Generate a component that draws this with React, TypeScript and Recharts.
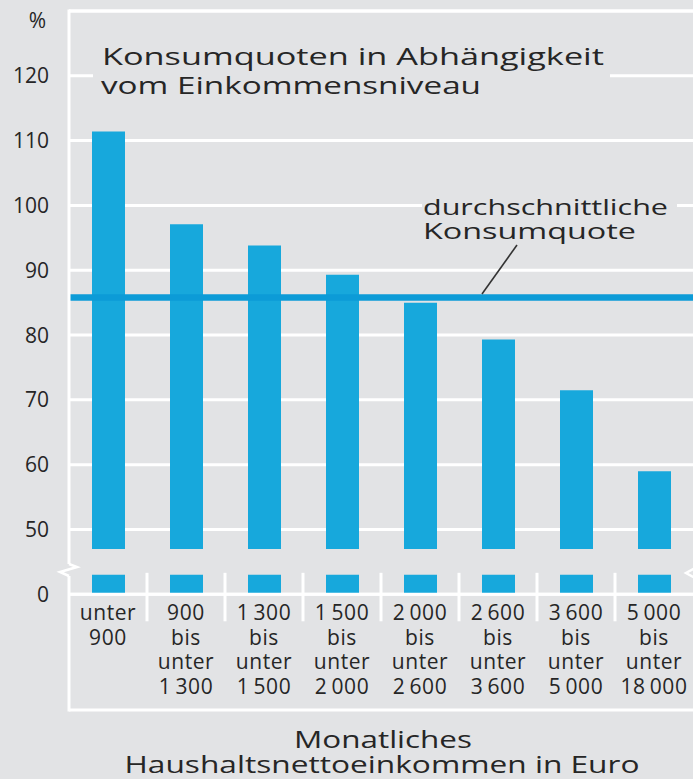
import React from 'react';
import { BarChart, Bar, XAxis, YAxis, CartesianGrid, ReferenceLine } from 'recharts';

// Monatliches Haushaltsnettoeinkommen in Euro (Klassen)
const incomeClasses = [
    'unter\n900',
    '900\nbis\nunter\n1\u2009300',
    '1\u2009300\nbis\nunter\n1\u2009500',
    '1\u2009500\nbis\nunter\n2\u2009000',
    '2\u2009000\nbis\nunter\n2\u2009600',
    '2\u2009600\nbis\nunter\n3\u2009600',
    '3\u2009600\nbis\nunter\n5\u2009000',
    '5\u2009000\nbis\nunter\n18\u2009000',
];

// Konsumquote in %
const consumptionRates = [111.4, 97.1, 93.8, 89.3, 85.0, 79.3, 71.5, 59.0];
const averageRate = 85.8;

const yTickValues = [0, 50, 60, 70, 80, 90, 100, 110, 120];

// broken axis: above the break the scale runs value - 40, below it is squeezed
const UPPER_OFFSET = 40;
const BREAK_TOP_VALUE = 47;
const STUB = 3;
const toDisplay = (v: number) => (v === 0 ? 0 : v - UPPER_OFFSET);
const fromDisplay = (d: number) => (d === 0 ? 0 : d + UPPER_OFFSET);

const data = incomeClasses.map((name, i) => ({
    name,
    stub: STUB,
    gap: toDisplay(BREAK_TOP_VALUE) - STUB,
    main: toDisplay(consumptionRates[i]) - toDisplay(BREAK_TOP_VALUE),
}));

const W = 693;
const H = 779;
const PLOT_LEFT = 69;
const BAND = (W - PLOT_LEFT) / incomeClasses.length;

const BG = '#e2e3e5';
const BAR = '#17a8dc';
const LINE = '#0c9bd7';
const TEXT = '#262626';
const FONT = '"Open Sans", sans-serif';

const XTick = (props: any) => {
    const { x, y, payload, index } = props;
    const lines = String(payload.value).split('\n');
    return (
        <g>
            {index > 0 && (
                <line x1={x - BAND / 2} x2={x - BAND / 2} y1={y - 21.5} y2={y + 27} stroke="#fff" strokeWidth={3} />
            )}
            <text x={x} y={y + 26} textAnchor="middle" fill={TEXT} fontSize={21} fontFamily={FONT} letterSpacing={0.6}>
                {lines.map((l, i) => (
                    <tspan key={i} x={x} dy={i === 0 ? 0 : 24.4}>{l}</tspan>
                ))}
            </text>
        </g>
    );
};

const YTick = (props: any) => {
    const { y, payload } = props;
    return (
        <text x={49} y={y + 7.5} textAnchor="end" fill={TEXT} fontSize={21} fontFamily={FONT}>
            {fromDisplay(payload.value)}
        </text>
    );
};

const Overlay = () => (
    <svg width={W} height={H} style={{ position: 'absolute', left: 0, top: 0, pointerEvents: 'none' }}>
        {/* frame */}
        <line x1={PLOT_LEFT} x2={W} y1={11} y2={11} stroke="#fff" strokeWidth={3} />
        <line x1={PLOT_LEFT} x2={W} y1={710} y2={710} stroke="#fff" strokeWidth={3} />
        <line x1={PLOT_LEFT} x2={PLOT_LEFT} y1={9.5} y2={564} stroke="#fff" strokeWidth={3} />
        <line x1={PLOT_LEFT} x2={PLOT_LEFT} y1={576} y2={711.5} stroke="#fff" strokeWidth={3} />
        <polyline points="69,564 77,567 60,572 69,576" fill="none" stroke="#fff" strokeWidth={2.5} />
        <polyline points="695,568 686,573 695,578" fill="none" stroke="#fff" strokeWidth={2.5} />

        <text x={46} y={28} textAnchor="end" fill={TEXT} fontSize={21} fontFamily={FONT}>%</text>

        {/* title */}
        <rect x={93} y={40} width={517} height={62} fill={BG} />
        <text x={102} y={65} fill={TEXT} fontSize={23} fontFamily={FONT} textLength={502} lengthAdjust="spacingAndGlyphs">
            Konsumquoten in Abhängigkeit
        </text>
        <text x={101} y={94} fill={TEXT} fontSize={23} fontFamily={FONT} textLength={380} lengthAdjust="spacingAndGlyphs">
            vom Einkommensniveau
        </text>

        {/* annotation of the average line */}
        <rect x={422} y={190} width={255} height={55} fill={BG} />
        <text x={423} y={215} fill={TEXT} fontSize={22} fontFamily={FONT} textLength={245} lengthAdjust="spacingAndGlyphs">
            durchschnittliche
        </text>
        <text x={423} y={238.5} fill={TEXT} fontSize={22} fontFamily={FONT} textLength={213} lengthAdjust="spacingAndGlyphs">
            Konsumquote
        </text>
        <line x1={517} y1={245} x2={482} y2={294} stroke="#333" strokeWidth={1.6} />

        {/* x axis title */}
        <text x={383} y={747.5} textAnchor="middle" fill={TEXT} fontSize={24} fontFamily={FONT} textLength={178} lengthAdjust="spacingAndGlyphs">
            Monatliches
        </text>
        <text x={382} y={772.5} textAnchor="middle" fill={TEXT} fontSize={24} fontFamily={FONT} textLength={515} lengthAdjust="spacingAndGlyphs">
            Haushaltsnettoeinkommen in Euro
        </text>
    </svg>
);

const App: React.FC = () => {
    return (
        <div style={{ position: 'absolute', left: 0, top: 0, width: W, height: H, background: BG, overflow: 'hidden' }}>
            <BarChart width={W} height={H} data={data} margin={{ top: 11, right: 0, bottom: 74.7, left: 0 }}>
                <CartesianGrid horizontal vertical={false} stroke="#fff" strokeWidth={3} />
                <XAxis
                    dataKey="name"
                    interval={0}
                    height={110}
                    tickLine={false}
                    tickSize={0}
                    tickMargin={0}
                    axisLine={{ stroke: '#fff', strokeWidth: 3 }}
                    tick={<XTick />}
                />
                <YAxis
                    type="number"
                    domain={[0, 90]}
                    ticks={yTickValues.map(toDisplay)}
                    width={PLOT_LEFT}
                    axisLine={false}
                    tickLine={false}
                    tick={<YTick />}
                />
                <Bar dataKey="stub" stackId="a" fill={BAR} barSize={33} isAnimationActive={false} />
                <Bar dataKey="gap" stackId="a" fill="transparent" barSize={33} isAnimationActive={false} />
                <Bar dataKey="main" stackId="a" fill={BAR} barSize={33} isAnimationActive={false} />
                <ReferenceLine y={toDisplay(averageRate)} stroke={LINE} strokeWidth={6.5} />
            </BarChart>
            <Overlay />
        </div>
    );
};

export default App;
